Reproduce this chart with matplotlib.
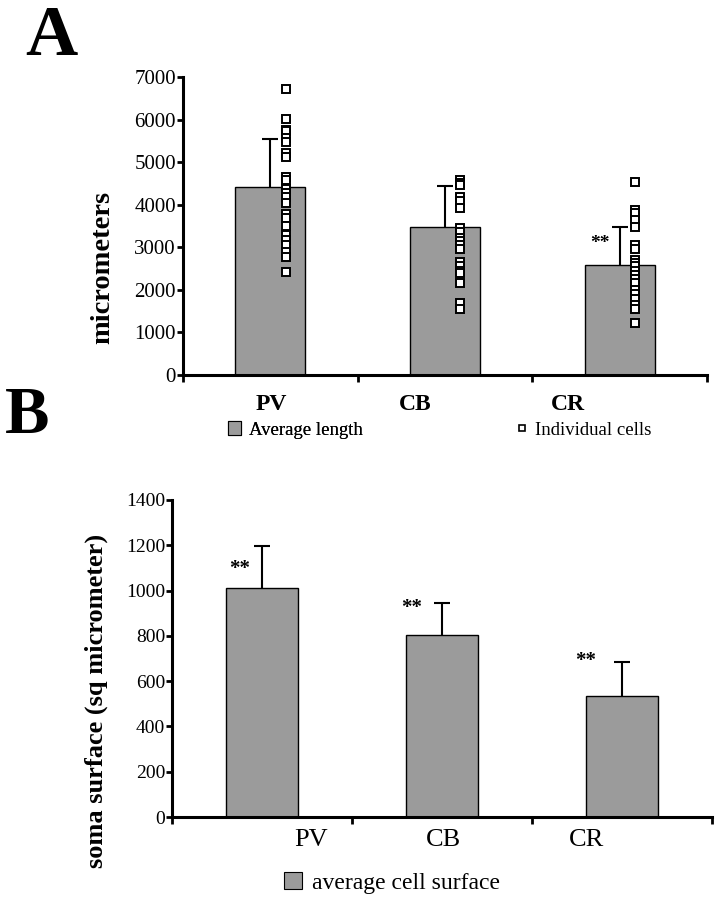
import numpy as np
import matplotlib
matplotlib.use("Agg")
import matplotlib.pyplot as plt
from matplotlib.patches import Patch
from matplotlib.lines import Line2D
from matplotlib.transforms import blended_transform_factory

plt.rcParams['font.family'] = ['Liberation Serif', 'DejaVu Serif']

# ---------------- data ----------------
categories = ['PV', 'CB', 'CR']

# panel A: dendritic length (micrometers)
length_mean = [4420, 3480, 2580]
length_sd = [1115, 955, 890]
cells_pv = [6720, 6020, 5760, 5720, 5560, 5480, 5210, 5110, 4660, 4580, 4380,
            4280, 4190, 4030, 3790, 3680, 3500, 3280, 3170, 3050, 2890, 2780, 2420]
cells_cb = [4590, 4500, 4460, 4170, 4080, 3920, 3450, 3350, 3220, 3150, 3050,
            2950, 2650, 2550, 2450, 2400, 2170, 1700, 1550]
cells_cr = [4540, 3870, 3800, 3650, 3480, 3060, 2950, 2700, 2620, 2550, 2450,
            2350, 2250, 2150, 2000, 1900, 1780, 1650, 1550, 1220]
cells = [cells_pv, cells_cb, cells_cr]
stars_a = ['', '', '**']

# panel B: soma surface (sq micrometer)
soma_mean = [1010, 805, 535]
soma_sd = [185, 140, 150]
stars_b = ['**', '**', '**']

bar_color = '#9b9b9b'

fig = plt.figure(figsize=(7.19, 9.0), dpi=100)

def style_axes(ax):
    for s in ['top', 'right']:
        ax.spines[s].set_visible(False)
    ax.spines['left'].set_linewidth(2.2)
    ax.spines['bottom'].set_linewidth(2.2)
    ax.set_xlim(0, 3)
    ax.set_xticks([0, 1, 2, 3])
    ax.set_xticklabels([])
    ax.tick_params(axis='x', direction='out', length=5, width=2)
    ax.tick_params(axis='y', direction='out', length=4, width=2, pad=1)

# upper error bars only (no cap at the bar top)
def upper_errorbar(ax, x, y, sd):
    _, caps, _ = ax.errorbar(x, y, yerr=[np.zeros(len(sd)), sd], fmt='none',
                             ecolor='black', elinewidth=1.5, capsize=6,
                             capthick=1.5, zorder=3)
    caps[0].set_visible(False)

# ---------------- A ----------------
axA = fig.add_axes([183/719, 1-375/900, 524/719, 298/900])
xpos = np.arange(len(categories)) + 0.5
axA.bar(xpos, length_mean, width=0.40, color=bar_color, edgecolor='black', linewidth=1.0, zorder=2)
upper_errorbar(axA, xpos, length_mean, length_sd)
for i, vals in enumerate(cells):
    axA.plot(np.full(len(vals), xpos[i] + 0.087), vals, 's', ms=5.5, mfc='white',
             mec='black', mew=1.4, ls='none', zorder=4)
for i, st in enumerate(stars_a):
    if st:
        axA.text(xpos[i] - 0.113, length_mean[i] + 500, st, ha='center', va='center',
                 fontsize=14, fontweight='bold')
axA.set_ylim(0, 7000)
axA.set_yticks(range(0, 7001, 1000))
style_axes(axA)
axA.tick_params(axis='y', labelsize=15)
axA.set_ylabel('micrometers', fontsize=20.5, fontweight='bold', va='center')
axA.yaxis.set_label_coords(-0.153, 0.362)
trA = blended_transform_factory(axA.transData, axA.transAxes)
for x, c in zip([0.504, 1.328, 2.204], categories):
    axA.text(x, -0.10, c, transform=trA, ha='center', va='center',
             fontsize=17, fontweight='bold')

legA1 = fig.legend(handles=[Patch(facecolor=bar_color, edgecolor='black', linewidth=0.8)],
                   labels=['Average length'], loc='center left',
                   bbox_to_anchor=(228/719, 1-430/900), frameon=False, fontsize=13.5,
                   handlelength=0.7, handleheight=0.7, handletextpad=0.4,
                   borderpad=0, borderaxespad=0)
fig.add_artist(legA1)
fig.legend(handles=[Line2D([], [], marker='s', ms=4.5, mfc='white', mec='black',
                           mew=1.2, ls='none')],
           labels=['Individual cells'], loc='center left',
           bbox_to_anchor=(514/719, 1-430/900), frameon=False, fontsize=13.5,
           handlelength=0.8, handletextpad=0.3, borderpad=0, borderaxespad=0)

# ---------------- B ----------------
axB = fig.add_axes([172/719, 1-817/900, 540/719, 317/900])
axB.bar(xpos, soma_mean, width=0.395, color=bar_color, edgecolor='black', linewidth=1.0, zorder=2)
upper_errorbar(axB, xpos, soma_mean, soma_sd)
star_dx = [-0.127, -0.168, -0.20]
star_dy = [85, 120, 154]
for i, st in enumerate(stars_b):
    axB.text(xpos[i] + star_dx[i], soma_mean[i] + star_dy[i], st, ha='center',
             va='center', fontsize=15, fontweight='bold')
axB.set_ylim(0, 1400)
axB.set_yticks(range(0, 1401, 200))
style_axes(axB)
axB.tick_params(axis='y', labelsize=14)
axB.set_ylabel('soma surface (sq micrometer)', fontsize=19, fontweight='bold', va='center')
axB.yaxis.set_label_coords(-0.141, 0.366)
trB = blended_transform_factory(axB.transData, axB.transAxes)
for x, c in zip([0.774, 1.51, 2.305], categories):
    axB.text(x, -0.073, c, transform=trB, ha='center', va='center', fontsize=19)

fig.legend(handles=[Patch(facecolor=bar_color, edgecolor='black', linewidth=0.8)],
           labels=['average cell surface'], loc='center left',
           bbox_to_anchor=(284/719, 1-883/900), frameon=False, fontsize=17,
           handlelength=0.75, handleheight=0.75, handletextpad=0.45,
           borderpad=0, borderaxespad=0)

# panel letters
fig.text(51/719, 1-30/900, 'A', ha='center', va='center_baseline', fontsize=52, fontweight='bold')
fig.text(27/719, 1-410/900, 'B', ha='center', va='center_baseline', fontsize=48, fontweight='bold')

fig.savefig('out.png', dpi=100)
